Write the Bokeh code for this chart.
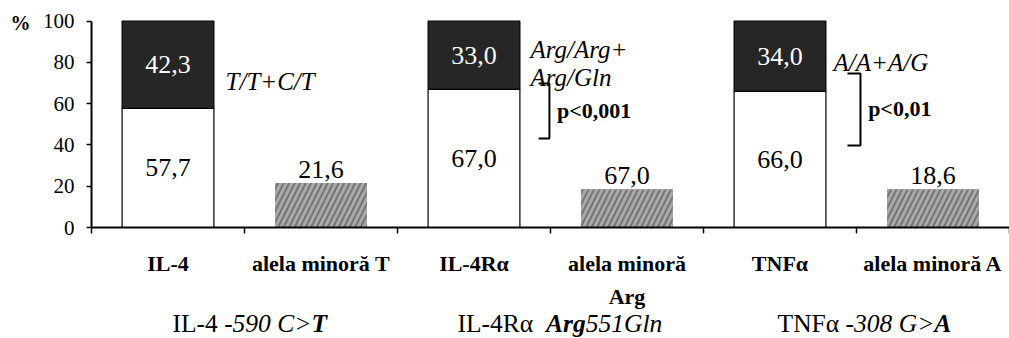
from bokeh.plotting import figure
from bokeh.models import Range1d, FixedTicker, Label, ColumnDataSource
from bokeh.core.properties import value
from bokeh.embed import file_html
from bokeh.resources import INLINE

# ---------------- data ----------------
categories = ["IL-4", "alela minoră T", "IL-4Rα", "alela minoră\nArg", "TNFα", "alela minoră A"]
genes = ["IL-4", "IL-4Rα", "TNFα"]
wild_share = [57.7, 67.0, 66.0]          # white segment
carrier_share = [42.3, 33.0, 34.0]       # dark segment
minor_allele = [21.6, 18.6, 18.6]        # hatched bar heights (as drawn)
minor_labels = ["21,6", "67,0", "18,6"]  # labels as printed
genotype_notes = ["T/T+C/T", "Arg/Arg+\nArg/Gln", "A/A+A/G"]
p_values = ["", "p<0,001", "p<0,01"]
y_ticks = [0, 20, 40, 60, 80, 100]
titles = [
    [("IL-4 ", "normal"), ("-590 C>", "italic"), ("T", "bold italic")],
    [("IL-4Rα  ", "normal"), ("Arg", "bold italic"), ("551Gln", "italic")],
    [("TNFα ", "normal"), ("-308 G>", "italic"), ("A", "bold italic")],
]

FONT = "Liberation Serif"

def fmt(v):
    return f"{v:.1f}".replace(".", ",")

# frame covers the whole canvas; axes are pinned at x=0 / y=0
p = figure(width=1009, height=338, output_backend="svg", toolbar_location=None,
           x_range=Range1d(-0.5948, 6.0), y_range=Range1d(-53.8, 110.03),
           min_border=0)
p.outline_line_color = None
p.xgrid.visible = False
p.ygrid.visible = False
p.background_fill_color = "white"
p.border_fill_color = "white"

# y axis
ya = p.yaxis[0]
ya.fixed_location = 0
ya.bounds = (0, 100)
ya.ticker = FixedTicker(ticks=y_ticks)
ya.axis_line_color = "black"
ya.axis_line_width = 2
ya.major_tick_line_color = "black"
ya.major_tick_line_width = 1.5
ya.major_tick_out = 5
ya.major_tick_in = 0
ya.minor_tick_line_color = None
ya.major_label_text_font = FONT
ya.major_label_text_font_size = "21px"
ya.major_label_text_color = "black"
ya.major_label_standoff = 12

# x axis
centers = [i + 0.5 for i in range(len(categories))]
xa = p.xaxis[0]
xa.fixed_location = 0
xa.bounds = (0, 6)
xa.ticker = FixedTicker(ticks=centers, minor_ticks=list(range(len(categories) + 1)))
xa.major_label_overrides = {c: lab for c, lab in zip(centers, categories)}
xa.axis_line_color = "black"
xa.axis_line_width = 2
xa.major_tick_line_color = None
xa.major_tick_out = 0
xa.major_tick_in = 0
xa.minor_tick_line_color = "black"
xa.minor_tick_line_width = 1.5
xa.minor_tick_out = 6
xa.minor_tick_in = 0
xa.major_label_text_font = FONT
xa.major_label_text_font_size = "22px"
xa.major_label_text_font_style = "bold"
xa.major_label_text_color = "black"
xa.major_label_text_line_height = 1.35
xa.major_label_standoff = 17

gene_x = [0.5, 2.5, 4.5]
minor_x = [1.5, 3.5, 5.5]
BW = 0.6

# stacked bars
tops = [a + b for a, b in zip(wild_share, carrier_share)]
p.vbar(x=gene_x, bottom=0, top=wild_share, width=BW, fill_color="white",
       line_color="black", line_width=1.2)
p.vbar(x=gene_x, bottom=wild_share, top=tops, width=BW, fill_color="#262626",
       line_color="black", line_width=1.2)

# hatched bars
p.vbar(x=minor_x, bottom=0, top=minor_allele, width=BW, fill_color="#737373",
       line_color=None, hatch_pattern="/", hatch_color="#a9a9a9",
       hatch_weight=3, hatch_scale=11)

# data labels
src_w = ColumnDataSource(dict(x=gene_x, y=[v / 2 for v in wild_share],
                              t=[fmt(v) for v in wild_share]))
p.text(x="x", y="y", text="t", source=src_w, text_align="center", text_baseline="middle",
       text_font=value(FONT), text_font_size=value("26px"), text_color="black")
src_d = ColumnDataSource(dict(x=gene_x, y=[(a + b) / 2 for a, b in zip(wild_share, tops)],
                              t=[fmt(v) for v in carrier_share]))
p.text(x="x", y="y", text="t", source=src_d, text_align="center", text_baseline="middle",
       text_font=value(FONT), text_font_size=value("26px"), text_color="white")
src_m = ColumnDataSource(dict(x=minor_x, y=[v + 6.5 for v in minor_allele], t=minor_labels))
p.text(x="x", y="y", text="t", source=src_m, text_align="center", text_baseline="alphabetic",
       text_font=value(FONT), text_font_size=value("26px"), text_color="black")

# genotype notes (italic)
note_pos = [(0.876, 70.8), (2.869, 86.3), (4.85, 80.0)]
for (nx, ny), note in zip(note_pos, genotype_notes):
    for k, line in enumerate(note.split("\n")):
        p.add_layout(Label(x=nx, y=ny - k * 13.6, text=line, text_font=FONT,
                           text_font_size="25px", text_font_style="italic",
                           text_baseline="middle", text_color="black"))

# significance brackets + p-values
brackets = [None, (2.922, 2.993, 43.1, 69.8), (4.941, 5.026, 39.7, 74.6)]
for br, pv in zip(brackets, p_values):
    if br is None:
        continue
    x0, x1, y0, y1 = br
    p.line(x=[x0, x1, x1, x0], y=[y1, y1, y0, y0], line_color="black", line_width=2)
    p.add_layout(Label(x=x1 + 0.05, y=(y0 + y1) / 2 + 0.5, text=pv, text_font=FONT,
                       text_font_size="22px", text_font_style="bold",
                       text_baseline="middle", text_color="black"))

# "%" unit
p.add_layout(Label(x=-0.53, y=99, text="%", text_font=FONT, text_font_size="20px",
                   text_font_style="bold", text_baseline="middle", text_color="black"))

# group titles with mixed styles
W = {
    "normal": {"I": .333, "L": .611, "-": .333, "4": .5, " ": .25, "R": .667, "α": .53,
               "T": .611, "N": .722, "F": .556},
    "italic": {"-": .333, " ": .25, "C": .667, ">": .675, "G": .722, "l": .278, "n": .5},
    "bold italic": {"T": .611, "A": .667, "r": .389, "g": .5},
}
title_start = [0.529, 2.392, 4.484]
TS = 25.5
for start, runs in zip(title_start, titles):
    off = 0.0
    for txt, style in runs:
        p.add_layout(Label(x=start, y=-46.5, x_offset=off, text=txt, text_font=FONT,
                           text_font_size=f"{TS}px", text_font_style=style,
                           text_baseline="alphabetic", text_color="black"))
        off += sum(W[style].get(ch, 0.5) for ch in txt) * TS

open("out.html", "w").write(file_html(p, INLINE))
